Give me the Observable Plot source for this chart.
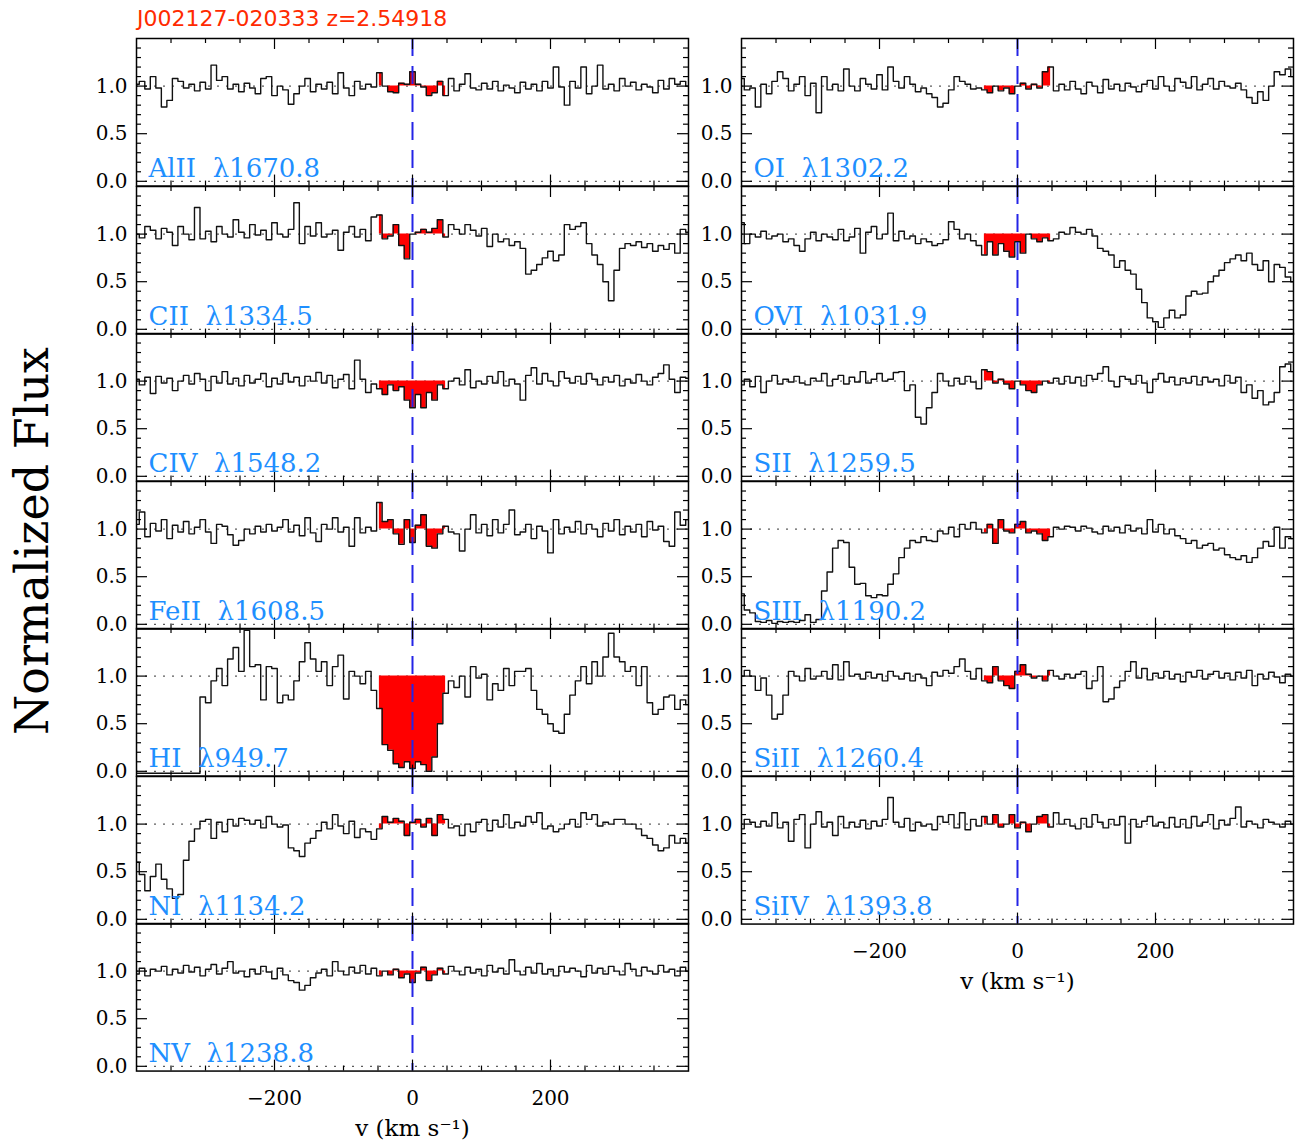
<!DOCTYPE html>
<html>
<head>
<meta charset="utf-8">
<script src="https://cdn.jsdelivr.net/npm/d3@7"></script>
<script src="https://cdn.jsdelivr.net/npm/@observablehq/plot@0.6"></script>
<style>
  body { margin: 0; background: #fff; }
  #chart { position: relative; width: 1297px; height: 1144px; overflow: hidden; background: #fff; }
  #chart svg { position: absolute; background: transparent; overflow: visible; max-width: none; }
  .title { position: absolute; left: 137px; top: 8px; font: 22px "DejaVu Sans"; line-height: 22px; color: #ff2a00; white-space: nowrap; }
  .ylab { position: absolute; left: 32px; top: 541px; transform: translate(-50%, -50%) rotate(-90deg); font: 46px "DejaVu Serif"; white-space: nowrap; color: #000; }
</style>
</head>
<body>
<div id="chart">
  <div class="title">J002127-020333 z=2.54918</div>
  <div class="ylab">Normalized Flux</div>
</div>
<script>
// ---------------- data ----------------
const velocity = [-400,-392,-384,-376,-368,-360,-352,-344,-336,-328,-320,-312,-304,-296,-288,-280,-272,-264,-256,-248,-240,-232,-224,-216,-208,-200,-192,-184,-176,-168,-160,-152,-144,-136,-128,-120,-112,-104,-96,-88,-80,-72,-64,-56,-48,-40,-32,-24,-16,-8,0,8,16,24,32,40,48,56,64,72,80,88,96,104,112,120,128,136,144,152,160,168,176,184,192,200,208,216,224,232,240,248,256,264,272,280,288,296,304,312,320,328,336,344,352,360,368,376,384,392,400];

const fluxAlII = [1.02,1.05,0.97,1.1,0.98,0.78,0.85,1.08,1.05,0.98,
1.02,0.95,1.04,0.97,1.22,1.06,1.1,0.97,1.02,0.94,
1.03,0.98,0.92,1.08,1.1,0.9,1.0,0.96,0.81,0.92,
1.0,1.08,0.94,1.02,0.97,1.04,0.92,1.14,0.98,0.9,
1.05,0.97,1.02,0.99,1.14,1.0,0.94,0.93,1.03,1.02,
1.15,1.02,0.99,0.9,0.93,1.05,0.9,1.08,0.95,1.02,
1.13,0.98,0.96,1.03,0.97,1.05,0.95,1.01,0.98,0.93,
1.04,0.97,1.02,0.95,1.05,0.98,1.2,0.99,0.8,1.05,
0.98,1.2,0.92,1.0,1.22,0.97,1.02,0.95,1.08,1.0,
1.04,0.96,1.02,0.99,0.93,1.06,0.97,1.08,1.02,1.05,1.0];

const fluxCII = [1.0,0.96,1.08,1.04,0.95,1.06,1.02,0.88,1.08,1.0,
0.94,1.28,0.95,1.03,0.92,1.08,1.0,0.97,1.15,1.02,
0.96,1.1,0.99,1.04,0.94,1.12,1.0,0.97,1.05,1.33,
0.9,1.08,0.98,1.12,0.97,1.0,1.04,0.83,1.02,1.08,
0.97,1.05,0.93,1.18,1.2,0.95,0.98,1.1,0.88,0.74,
1.0,1.02,1.05,1.02,1.06,1.15,0.97,1.1,1.05,1.0,
1.1,1.04,0.98,1.06,0.87,1.0,0.92,0.95,0.88,0.92,
0.85,0.58,0.62,0.68,0.75,0.82,0.72,0.78,1.1,1.05,
1.08,1.12,0.9,0.78,0.68,0.5,0.3,0.62,0.85,0.9,
0.88,0.92,0.86,0.9,0.82,0.88,0.84,0.9,0.8,1.05,1.02];

const fluxCIV = [1.02,0.96,1.04,0.87,1.05,0.98,1.03,0.9,1.0,1.06,
0.97,1.08,1.02,0.9,1.05,0.98,1.1,0.97,1.03,0.95,
1.06,0.98,1.02,1.08,0.94,1.03,0.97,1.08,0.99,1.04,
0.95,1.05,1.0,1.09,0.98,1.06,0.93,1.02,1.07,0.92,
1.22,1.02,0.88,0.97,0.92,0.86,0.96,0.9,0.94,0.8,
0.72,0.86,0.72,0.88,0.8,0.96,0.92,1.0,1.03,0.96,
1.12,0.93,1.0,0.97,1.05,0.98,1.1,0.95,1.02,0.97,
0.8,1.06,1.14,0.97,1.08,1.0,0.95,1.1,1.03,0.98,
1.05,0.97,1.08,1.02,0.96,1.04,0.99,1.06,0.95,1.02,
0.98,1.07,1.0,0.96,1.04,1.08,1.17,1.02,0.88,1.04,1.03];

const fluxFeII = [1.05,1.18,0.92,1.06,0.98,1.1,0.9,1.04,0.97,1.08,
0.95,1.02,1.1,0.97,0.85,1.05,1.03,0.94,0.83,0.88,
1.0,0.95,1.03,0.97,1.05,0.98,1.02,1.1,0.97,1.04,
0.93,1.12,0.96,0.87,1.05,1.0,1.12,0.97,1.02,0.82,
1.12,0.96,1.02,0.98,1.28,1.08,1.1,0.95,0.84,1.1,
0.86,1.04,1.15,0.82,0.8,0.95,1.03,0.97,0.95,0.77,
1.0,1.15,0.96,1.05,0.93,1.1,0.96,1.05,1.2,0.94,
0.97,1.05,0.9,1.03,0.98,0.75,1.1,0.95,1.02,0.97,
1.08,0.95,1.05,1.0,0.92,1.06,0.98,1.1,0.94,1.03,
0.97,1.05,0.92,1.08,0.99,1.03,0.87,0.82,1.18,1.04,1.1];

const fluxHI = [-0.02,-0.02,-0.02,-0.02,-0.02,-0.02,-0.02,-0.02,-0.02,-0.02,
-0.02,-0.02,0.78,0.72,0.95,1.08,0.9,1.18,1.3,1.05,
1.48,1.1,1.12,0.75,1.1,1.08,0.72,0.8,0.75,0.95,
1.15,1.35,1.18,1.05,1.15,0.9,1.1,1.22,0.76,1.05,
1.0,0.92,1.05,0.85,0.66,0.28,0.22,0.08,0.04,0.1,
0.03,0.1,0.07,0.0,0.15,0.5,0.82,0.95,0.88,1.0,
0.78,1.1,0.98,1.02,0.75,0.92,0.85,1.08,0.9,1.05,
1.05,1.08,0.85,0.65,0.6,0.5,0.42,0.4,0.6,0.8,
0.95,1.1,0.92,1.15,1.0,1.2,1.45,1.2,1.15,1.05,
1.1,0.9,1.1,0.72,0.6,0.65,0.78,0.8,0.65,0.75,0.7];

const fluxNI = [0.6,0.47,0.3,0.45,0.58,0.42,0.32,0.22,0.26,0.62,
0.82,0.95,1.03,1.05,0.85,1.02,0.92,1.05,0.98,1.06,
1.04,1.0,1.04,0.96,1.08,1.0,0.97,0.99,0.75,0.72,
0.66,0.8,0.85,0.93,1.02,0.95,1.1,0.98,0.9,1.03,
0.86,0.95,0.92,0.84,0.95,1.08,1.02,1.06,1.03,0.88,
1.02,1.05,0.97,1.06,0.88,1.1,1.05,0.96,0.98,0.88,
1.0,0.92,1.02,1.05,0.93,1.04,0.97,1.1,0.96,1.02,
0.98,1.08,1.02,1.12,0.95,0.98,0.92,0.95,1.0,1.05,
0.97,1.12,1.05,1.1,0.98,1.02,1.0,1.05,1.05,1.0,
1.0,0.95,0.88,0.85,0.78,0.72,0.75,0.88,0.8,0.85,0.8];

const fluxNV = [0.97,1.03,0.95,1.02,1.0,1.05,0.96,1.02,0.98,1.06,
0.99,1.04,0.95,1.02,1.07,0.97,1.03,1.1,0.98,1.0,
0.94,1.02,0.97,1.05,0.99,0.92,1.03,0.96,0.9,0.88,
0.8,0.85,0.93,0.98,1.02,0.95,1.1,1.0,0.96,1.04,
0.98,1.06,0.97,1.03,0.95,1.0,0.96,1.02,0.93,0.97,
0.88,0.98,1.04,0.9,0.96,1.03,0.97,1.05,1.0,0.96,
1.04,0.98,1.02,0.95,1.06,0.99,1.03,0.97,1.12,1.0,
0.96,1.04,0.98,1.08,0.97,1.02,0.95,1.05,0.99,1.03,
1.0,0.94,1.06,0.98,1.03,0.97,1.05,1.0,0.96,1.08,
1.02,0.95,1.04,1.0,0.97,1.06,0.99,1.02,0.95,1.04,1.0];

const fluxOI = [1.08,0.96,0.98,0.78,1.02,0.92,1.05,1.15,1.08,0.95,
1.02,1.1,0.9,1.03,0.72,1.1,0.96,1.02,0.95,1.18,
1.0,0.95,1.08,1.02,0.97,1.12,0.96,1.2,1.05,0.98,
1.1,1.02,0.94,0.98,0.92,0.88,0.78,0.82,0.96,1.1,
1.05,1.02,0.97,0.98,0.96,0.93,1.0,0.95,0.98,0.92,
1.0,1.03,0.97,1.02,0.98,1.15,1.2,0.95,1.02,0.96,
1.05,0.97,0.92,1.04,1.0,0.93,1.07,0.97,1.02,0.95,
1.03,0.99,0.94,1.02,1.06,0.97,1.1,1.0,0.95,1.08,
1.04,0.98,1.1,0.96,1.02,1.08,0.97,1.05,1.0,0.98,
1.03,0.96,0.88,0.82,0.94,0.85,1.0,1.15,1.12,1.18,1.1];

const fluxOVI = [1.12,0.9,1.0,0.97,1.03,0.95,0.98,1.0,0.92,0.95,
0.88,0.82,0.95,1.02,0.93,1.0,0.97,0.94,1.05,0.93,
0.97,1.06,0.8,1.02,1.08,0.95,1.0,1.22,0.93,1.03,
0.95,0.98,0.9,0.95,0.92,0.88,0.9,0.94,1.13,1.05,
0.95,1.0,0.93,0.88,0.78,0.92,0.78,0.9,0.82,0.76,
0.92,0.8,1.0,0.95,0.92,0.96,0.93,0.95,1.02,1.0,
1.07,1.02,1.0,1.05,0.98,0.85,0.82,0.78,0.65,0.72,
0.62,0.58,0.42,0.28,0.12,0.08,0.02,0.12,0.2,0.12,
0.15,0.35,0.4,0.37,0.38,0.5,0.56,0.62,0.7,0.74,
0.78,0.72,0.8,0.68,0.62,0.72,0.5,0.68,0.65,0.55,0.5];

const fluxSII = [0.96,1.02,0.94,1.05,0.88,1.0,1.06,0.97,1.02,0.99,
1.05,0.98,0.96,1.03,1.0,1.08,0.95,1.02,1.06,0.97,
1.04,0.99,1.1,0.98,1.02,1.08,1.0,1.02,1.09,1.1,
0.9,0.96,0.62,0.55,0.72,0.88,1.08,1.0,0.95,1.03,
0.97,1.05,0.99,0.92,1.12,1.1,0.98,1.02,0.97,0.92,
1.0,0.96,0.9,0.88,0.96,1.0,0.98,1.03,0.97,1.05,
0.98,1.04,0.95,1.06,1.02,1.08,1.15,1.0,0.94,1.05,
1.02,0.97,1.06,0.98,0.88,1.02,1.08,0.99,1.04,0.96,
1.03,0.98,1.05,0.96,1.04,0.99,1.02,0.95,1.06,0.98,
1.04,0.88,0.96,0.82,0.9,0.75,0.78,0.88,1.15,1.18,1.1];

const fluxSIII = [0.32,0.15,0.12,0.03,0.02,0.04,0.01,0.03,0.02,0.03,
0.02,0.04,0.1,0.02,0.05,0.35,0.55,0.8,0.88,0.86,
0.6,0.42,0.43,0.3,0.28,0.31,0.3,0.42,0.53,0.7,
0.8,0.88,0.86,0.92,0.88,0.87,0.98,0.95,1.02,0.92,
1.05,1.0,1.07,1.0,0.96,1.05,0.85,1.1,0.98,0.96,
1.05,1.08,0.96,0.98,0.95,0.88,0.92,1.02,1.0,1.03,
1.02,0.98,1.03,1.01,0.97,0.95,1.03,0.98,1.02,0.96,
1.04,0.98,1.01,0.95,1.1,0.97,1.05,0.95,1.0,0.93,
0.9,0.85,0.88,0.8,0.83,0.85,0.78,0.8,0.73,0.7,
0.68,0.72,0.65,0.7,0.8,0.87,0.82,1.02,0.8,0.92,0.9];

const fluxSiII = [1.0,1.06,1.0,0.85,0.98,0.8,0.55,0.6,0.8,1.05,
1.0,0.95,1.08,0.97,1.0,1.05,0.97,1.12,0.96,1.15,
1.0,1.02,0.97,1.04,0.98,1.02,0.95,1.05,1.0,0.97,
1.03,0.95,1.02,0.98,0.9,1.04,1.0,1.06,1.03,1.1,
1.18,1.05,0.97,1.08,0.95,0.93,1.1,0.95,0.9,0.87,
1.05,1.12,1.02,0.98,1.0,0.95,1.06,1.0,0.97,1.02,
0.98,1.02,1.05,0.87,0.95,1.1,0.73,0.76,0.88,0.95,
1.05,1.15,0.98,1.08,0.96,1.03,0.98,1.05,0.97,1.02,
0.94,1.04,0.99,1.06,0.97,1.02,1.05,0.98,1.03,0.96,
1.04,0.98,1.06,0.9,1.02,0.97,1.04,0.99,0.93,1.02,1.0];

const fluxSiIV = [0.95,1.05,1.02,0.97,1.03,0.98,1.12,0.96,1.02,0.82,
1.05,1.1,0.75,1.0,1.13,0.97,1.02,0.88,1.08,0.96,
1.02,0.97,1.04,0.95,1.03,0.98,1.05,1.28,1.02,0.97,
1.06,0.93,1.02,0.98,1.0,0.94,1.08,1.02,1.1,0.96,
1.12,0.94,1.05,0.98,1.08,1.0,1.1,0.97,1.0,1.1,
0.96,1.02,0.92,1.0,1.08,1.1,0.97,1.12,1.0,1.05,
0.98,0.95,1.06,0.97,1.1,1.02,0.96,1.05,0.99,1.08,
0.8,1.05,0.97,1.03,1.08,0.98,1.02,0.96,1.07,0.97,
1.05,0.96,1.08,0.98,1.02,1.1,0.95,1.04,0.99,1.06,
1.18,0.97,1.03,1.0,0.96,1.05,1.02,1.0,0.97,1.03,1.0];

// panel categories (transition names and rest wavelengths)
const leftIons = ["AlII", "CII", "CIV", "FeII", "HI", "NI", "NV"];
const leftWaves = ["1670.8", "1334.5", "1548.2", "1608.5", "949.7", "1134.2", "1238.8"];
const rightIons = ["OI", "OVI", "SII", "SIII", "SiII", "SiIV"];
const rightWaves = ["1302.2", "1031.9", "1259.5", "1190.2", "1260.4", "1393.8"];

// velocity window of the integrated component (red)
const absorptionWindow = [-48, 48];

// tick values
const xMajorTicks = [-200, 0, 200];
const xMinorTicks = [-350, -300, -250, -150, -100, -50, 50, 100, 150, 250, 300, 350];
const yMajorTicks = [0, 0.5, 1];
const yMinorTicks = [0.1, 0.2, 0.3, 0.4, 0.6, 0.7, 0.8, 0.9, 1.1, 1.2, 1.3, 1.4];

const fluxLookup = {
  AlII: fluxAlII, CII: fluxCII, CIV: fluxCIV, FeII: fluxFeII, HI: fluxHI, NI: fluxNI, NV: fluxNV,
  OI: fluxOI, OVI: fluxOVI, SII: fluxSII, SIII: fluxSIII, SiII: fluxSiII, SiIV: fluxSiIV
};

// ---------------- layout ----------------
const FRAME_W = 552, FRAME_H = 147.57;
const COL_X = [136, 741];
const TOP_Y = 38;
const ML = 60, MR = 10, MT = 10;
const chart = document.getElementById("chart");
const fmtX = d3.format("d");
const fmtY = d3.format(".1f");

function makePanel(ion, wave, flux, col, row, isBottom) {
  const MB = isBottom ? 80 : 10;
  const data = velocity.map((v, i) => ({v, f: flux[i]}));
  const win = data.filter(d => d.v >= absorptionWindow[0] && d.v <= absorptionWindow[1]);
  const minorLen = 5, majorLen = 11;
  const marks = [
    Plot.ruleY([0, 1], {stroke: "#333", strokeWidth: 1, strokeDasharray: "2,7"}),
    Plot.areaY(win, {x: "v", y1: 1, y2: "f", fill: "#ff0000", curve: "step"}),
    Plot.line(data, {x: "v", y: "f", stroke: "#111", strokeWidth: 1.4, curve: "step", clip: true}),
    Plot.ruleX([0], {stroke: "#2424e6", strokeWidth: 2, strokeDasharray: "18,10"}),
    // inward ticks, bottom & top
    Plot.tickX(xMinorTicks, {x: d => d, insetTop: FRAME_H - minorLen, strokeWidth: 1.2}),
    Plot.tickX(xMinorTicks, {x: d => d, insetBottom: FRAME_H - minorLen, strokeWidth: 1.2}),
    Plot.tickX(xMajorTicks, {x: d => d, insetTop: FRAME_H - majorLen, strokeWidth: 1.2}),
    Plot.tickX(xMajorTicks, {x: d => d, insetBottom: FRAME_H - majorLen, strokeWidth: 1.2}),
    // inward ticks, left & right
    Plot.tickY(yMinorTicks, {y: d => d, insetRight: FRAME_W - minorLen, strokeWidth: 1.2}),
    Plot.tickY(yMinorTicks, {y: d => d, insetLeft: FRAME_W - minorLen, strokeWidth: 1.2}),
    Plot.tickY(yMajorTicks, {y: d => d, insetRight: FRAME_W - majorLen, strokeWidth: 1.2}),
    Plot.tickY(yMajorTicks, {y: d => d, insetLeft: FRAME_W - majorLen, strokeWidth: 1.2}),
    Plot.frame({stroke: "#000", strokeWidth: 1.5}),
    Plot.axisY({ticks: yMajorTicks, tickFormat: fmtY, tickSize: 0, tickPadding: 9, label: null, fontSize: 20, fontFamily: "DejaVu Serif"}),
    Plot.text([`${ion}  λ${wave}`], {text: d => d, frameAnchor: "bottom-left", textAnchor: "start", lineAnchor: "bottom", dx: 12, dy: -9, fill: "#1e8fff", fontSize: 26, fontFamily: "DejaVu Serif"})
  ];
  if (isBottom) {
    marks.push(Plot.axisX({ticks: xMajorTicks, tickFormat: fmtX, tickSize: 0, tickPadding: 20, label: null, fontSize: 20, fontFamily: "DejaVu Serif"}));
    marks.push(Plot.text(["v (km s⁻¹)"], {text: d => d, frameAnchor: "bottom", lineAnchor: "middle", dy: 58, fontSize: 23, fontFamily: "DejaVu Serif", fill: "#000"}));
  }
  const svg = Plot.plot({
    width: FRAME_W + ML + MR,
    height: FRAME_H + MT + MB,
    marginLeft: ML, marginRight: MR, marginTop: MT, marginBottom: MB,
    x: {domain: [-400, 400], axis: isBottom ? undefined : null},
    y: {domain: [-0.05, 1.5]},
    style: {background: "transparent", fontFamily: "DejaVu Serif", fontSize: "20px", color: "#000"},
    marks
  });
  svg.style.left = (COL_X[col] - ML) + "px";
  svg.style.top = (TOP_Y + row * FRAME_H - MT) + "px";
  chart.appendChild(svg);
}

leftIons.forEach((ion, i) => makePanel(ion, leftWaves[i], fluxLookup[ion], 0, i, i === leftIons.length - 1));
rightIons.forEach((ion, i) => makePanel(ion, rightWaves[i], fluxLookup[ion], 1, i, i === rightIons.length - 1));
</script>
</body>
</html>
